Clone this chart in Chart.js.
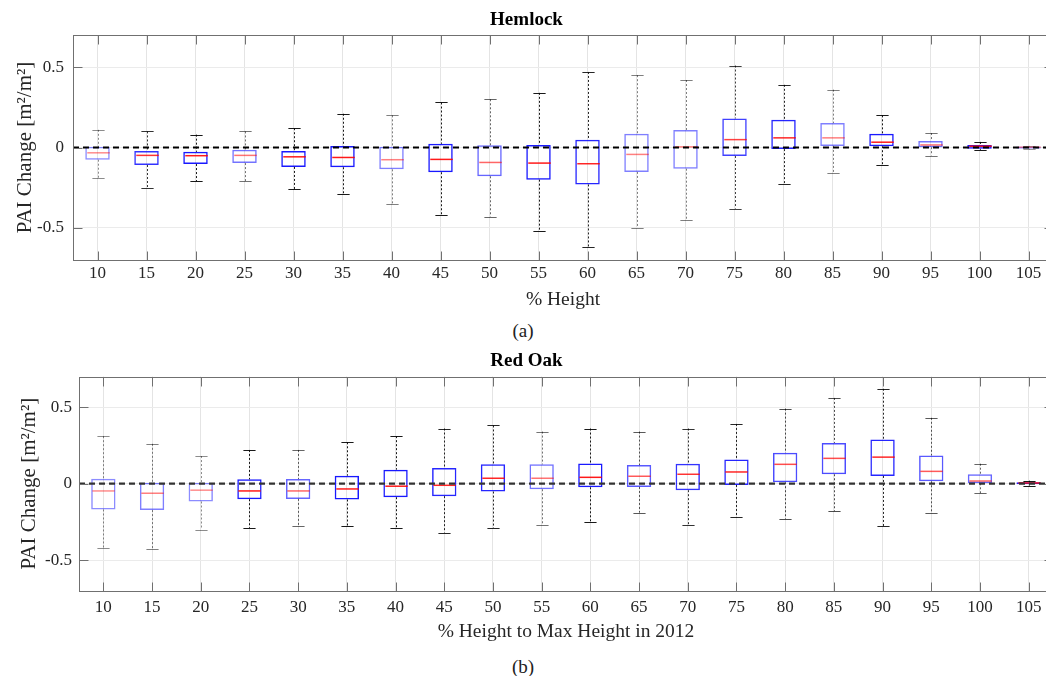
<!DOCTYPE html>
<html>
<head>
<meta charset="utf-8">
<script src="https://cdn.jsdelivr.net/npm/chart.js@4.4.0/dist/chart.umd.min.js"></script>
<style>
  html, body { margin: 0; padding: 0; background: #fff; overflow: hidden; width: 1046px; height: 676px; }
  .panel { position: absolute; left: 0; width: 1062px; }
  .cap { position: absolute; left: 0; width: 1046px; text-align: center; line-height: 22px;
         font: 19px "Liberation Serif", serif; color: #222; }
</style>
</head>
<body>
<div class="panel" style="top:0;height:312px"><canvas id="hemlock"></canvas></div>
<div class="cap" style="top:320px">(a)</div>
<div class="panel" style="top:340px;height:304px"><canvas id="redoak"></canvas></div>
<div class="cap" style="top:656px">(b)</div>

<script>
// Box plot statistics, PAI change [m2/m2] per % height bin
const heights = ['10', '15', '20', '25', '30', '35', '40', '45', '50', '55',
                 '60', '65', '70', '75', '80', '85', '90', '95', '100', '105'];
const yTicks = [-0.5, 0, 0.5];
const zeroLevel = 0;

// Hemlock (a)
const hemlockMin = [-0.19, -0.25, -0.21, -0.21, -0.26, -0.29, -0.35, -0.42, -0.43, -0.52,
                    -0.62, -0.50, -0.45, -0.38, -0.23, -0.16, -0.11, -0.05, -0.014, -0.012];
const hemlockQ1  = [-0.076, -0.109, -0.103, -0.097, -0.121, -0.123, -0.136, -0.154, -0.179, -0.200,
                    -0.230, -0.152, -0.132, -0.053, -0.010, 0.010, 0.008, 0.002, -0.008, -0.008];
const hemlockMed = [-0.033, -0.049, -0.051, -0.049, -0.058, -0.062, -0.076, -0.074, -0.093, -0.097,
                    -0.101, -0.043, 0.004, 0.049, 0.060, 0.060, 0.033, 0.016, 0.008, 0.002];
const hemlockQ3  = [0.004, -0.021, -0.027, -0.014, -0.021, 0.010, 0.004, 0.023, 0.014, 0.016,
                    0.049, 0.086, 0.109, 0.181, 0.173, 0.152, 0.086, 0.041, 0.016, 0.006];
const hemlockMax = [0.11, 0.10, 0.08, 0.10, 0.12, 0.21, 0.20, 0.28, 0.30, 0.34,
                    0.47, 0.45, 0.42, 0.51, 0.39, 0.36, 0.20, 0.09, 0.035, 0.01];

// Red Oak (b)
const redOakMin = [-0.42, -0.43, -0.30, -0.29, -0.28, -0.28, -0.29, -0.32, -0.29, -0.27,
                   -0.25, -0.19, -0.27, -0.22, -0.23, -0.18, -0.28, -0.19, -0.063, -0.013];
const redOakQ1  = [-0.169, -0.173, -0.117, -0.102, -0.100, -0.104, -0.089, -0.082, -0.052, -0.037,
                   -0.024, -0.022, -0.043, -0.009, 0.009, 0.061, 0.050, 0.015, 0.002, -0.004];
const redOakMed = [-0.048, -0.063, -0.043, -0.048, -0.048, -0.035, -0.017, -0.011, 0.035, 0.035,
                   0.041, 0.048, 0.061, 0.076, 0.126, 0.165, 0.173, 0.080, 0.017, 0.004];
const redOakQ3  = [0.032, 0.006, 0.006, 0.028, 0.030, 0.052, 0.091, 0.102, 0.126, 0.126,
                   0.132, 0.121, 0.130, 0.158, 0.201, 0.266, 0.288, 0.184, 0.061, 0.009];
const redOakMax = [0.31, 0.26, 0.18, 0.22, 0.22, 0.27, 0.31, 0.36, 0.38, 0.34,
                   0.36, 0.34, 0.36, 0.39, 0.49, 0.56, 0.62, 0.43, 0.13, 0.019];

const SERIF = '"Liberation Serif", "DejaVu Serif", serif';

// how strongly each box is inked (the original overlays semi-transparent boxes)
const hemlockInk = [0.45, 0.8, 0.9, 0.55, 0.9, 0.9, 0.5, 0.9, 0.6, 0.9,
                    0.85, 0.5, 0.5, 0.75, 0.85, 0.5, 0.9, 0.55, 0.9, 0.4];
const redOakInk = [0.45, 0.5, 0.45, 0.9, 0.6, 0.9, 0.9, 0.85, 0.85, 0.55,
                   0.9, 0.65, 0.8, 0.85, 0.7, 0.7, 0.85, 0.65, 0.6, 0.9];

// whiskers, caps, medians, dashed zero line and MATLAB-like frame
const boxPlotPlugin = {
  id: 'boxPlot',
  afterDatasetsDraw(chart, args, opts) {
    const { ctx, chartArea: area, scales: { x, y } } = chart;
    const step = x.getPixelForValue(1) - x.getPixelForValue(0);
    const capHalf = step * 0.125;
    const boxHalf = step * 0.25;
    ctx.save();

    heights.forEach((h, i) => {
      const cx = Math.round(x.getPixelForValue(i)) + 0.5;
      const a = opts.ink[i];
      const yMax = y.getPixelForValue(opts.max[i]);
      const yQ3 = y.getPixelForValue(opts.q3[i]);
      const yQ1 = y.getPixelForValue(opts.q1[i]);
      const yMin = y.getPixelForValue(opts.min[i]);

      ctx.strokeStyle = `rgba(0,0,0,${a})`;
      ctx.lineWidth = 1;
      ctx.setLineDash([2, 2]);
      ctx.beginPath();
      ctx.moveTo(cx, yMax); ctx.lineTo(cx, yQ3);
      ctx.moveTo(cx, yQ1); ctx.lineTo(cx, yMin);
      ctx.stroke();

      ctx.setLineDash([]);
      ctx.beginPath();
      ctx.moveTo(cx - capHalf, Math.round(yMax) + 0.5); ctx.lineTo(cx + capHalf, Math.round(yMax) + 0.5);
      ctx.moveTo(cx - capHalf, Math.round(yMin) + 0.5); ctx.lineTo(cx + capHalf, Math.round(yMin) + 0.5);
      ctx.stroke();

      const yMed = y.getPixelForValue(opts.med[i]);
      ctx.strokeStyle = `rgba(255,0,0,${a})`;
      ctx.lineWidth = 1.5;
      ctx.beginPath();
      ctx.moveTo(cx - boxHalf + 1, yMed); ctx.lineTo(cx + boxHalf - 1, yMed);
      ctx.stroke();
    });

    // dashed reference line at zero
    const y0 = y.getPixelForValue(zeroLevel);
    ctx.strokeStyle = opts.zeroColor;
    ctx.lineWidth = 2.2;
    ctx.setLineDash([6, 4]);
    ctx.beginPath();
    ctx.moveTo(area.left, y0); ctx.lineTo(area.right, y0);
    ctx.stroke();
    ctx.setLineDash([]);

    // frame + inward tick marks
    ctx.strokeStyle = '#707070';
    ctx.lineWidth = 1;
    const L = Math.round(area.left) + 0.5, R = Math.round(area.right) + 0.5;
    const T = Math.round(area.top) + 0.5, B = Math.round(area.bottom) + 0.5;
    ctx.strokeRect(L, T, R - L, B - T);
    ctx.beginPath();
    heights.forEach((h, i) => {
      const tx = Math.round(x.getPixelForValue(i)) + 0.5;
      ctx.moveTo(tx, T); ctx.lineTo(tx, T + 9);
      ctx.moveTo(tx, B); ctx.lineTo(tx, B - 9);
    });
    yTicks.forEach(v => {
      const ty = Math.round(y.getPixelForValue(v)) + 0.5;
      ctx.moveTo(L, ty); ctx.lineTo(L + 9, ty);
      ctx.moveTo(R, ty); ctx.lineTo(R - 9, ty);
    });
    ctx.stroke();
    ctx.restore();
  }
};

function makePanel(id, title, xTitle, stats, ink, g) {
  new Chart(document.getElementById(id), {
    type: 'bar',
    data: {
      labels: heights,
      datasets: [{
        data: stats.q1.map((v, i) => [v, stats.q3[i]]),
        backgroundColor: 'rgba(0,0,0,0)',
        borderColor: ink.map(a => `rgba(0,0,255,${a})`),
        borderWidth: 1.5,
        borderSkipped: false,
        barPercentage: 0.5,
        categoryPercentage: 1.0
      }]
    },
    options: {
      responsive: true,
      maintainAspectRatio: false,
      animation: false,
      events: [],
      layout: { padding: { left: 0, right: 9, top: 0, bottom: g.padBottom } },
      plugins: {
        legend: { display: false },
        tooltip: { enabled: false },
        title: {
          display: true,
          text: title,
          color: '#000',
          font: { family: SERIF, size: 19, weight: 'bold' },
          padding: { top: g.titleTop, bottom: g.titleBottom }
        },
        boxPlot: Object.assign({ ink: ink, zeroColor: g.zeroColor }, stats)
      },
      scales: {
        x: {
          grid: { color: '#e4e4e4', offset: false, drawTicks: false },
          border: { display: false },
          ticks: { color: '#262626', font: { family: SERIF, size: 17 }, padding: g.tickPad,
                   maxRotation: 0, autoSkip: false },
          title: { display: true, text: xTitle, color: '#262626',
                   font: { family: SERIF, size: 19.5 }, padding: { top: 0, bottom: 0 } },
          afterFit: s => { s.height = g.xHeight; }
        },
        y: {
          min: -0.7,
          max: 0.7,
          afterBuildTicks: s => { s.ticks = yTicks.map(v => ({ value: v })); },
          grid: { color: '#ebebeb', drawTicks: false },
          border: { display: false },
          ticks: { color: '#262626', font: { family: SERIF, size: 17 }, padding: g.yTickPad },
          title: { display: true, text: 'PAI Change [m²/m²]', color: '#262626',
                   font: { family: SERIF, size: 21 }, padding: { top: g.yTitlePad, bottom: 0 } },
          afterFit: s => { s.width = g.left; }
        }
      }
    },
    plugins: [boxPlotPlugin]
  });
}

makePanel('hemlock', 'Hemlock', '% Height',
  { min: hemlockMin, q1: hemlockQ1, med: hemlockMed, q3: hemlockQ3, max: hemlockMax },
  hemlockInk,
  { left: 73, padBottom: 0.6, xHeight: 51.4, titleTop: 9, titleBottom: 3.2,
    tickPad: 3, yTickPad: 9, yTitlePad: 12.4, zeroColor: '#000' });

makePanel('redoak', 'Red Oak', '% Height to Max Height in 2012',
  { min: redOakMin, q1: redOakQ1, med: redOakMed, q3: redOakQ3, max: redOakMax },
  redOakInk,
  { left: 79, padBottom: 0.9, xHeight: 52.4, titleTop: 9.6, titleBottom: 4.1,
    tickPad: 7, yTickPad: 7, yTitlePad: 17, zeroColor: '#333' });
</script>
</body>
</html>
